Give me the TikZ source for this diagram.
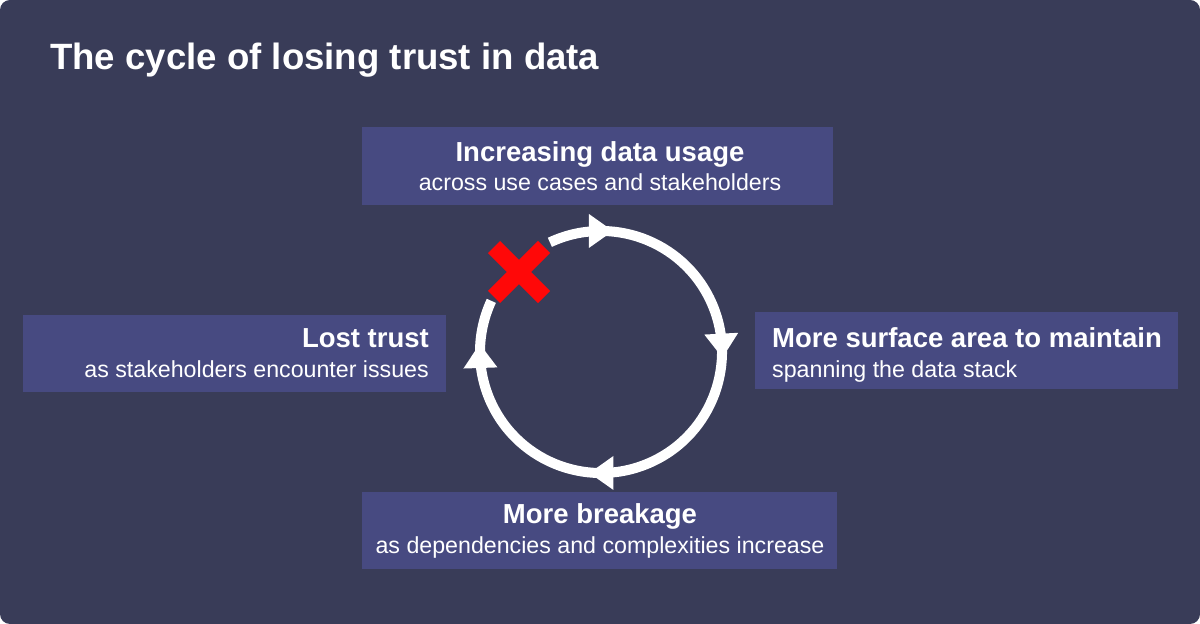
\documentclass[tikz,border=0pt]{standalone}
\usepackage{fontspec}
\setmainfont{Liberation Sans}
\usetikzlibrary{positioning,calc,decorations.markings}

\definecolor{bgnavy}{RGB}{57,60,88}
\definecolor{boxblue}{RGB}{71,74,129}
\definecolor{crossred}{RGB}{255,8,8}

\tikzset{
  box/.style={fill=boxblue, inner sep=0pt},
  headtxt/.style={text=white, inner sep=0pt, font=\bfseries\fontsize{27.5}{30}\selectfont},
  subtxt/.style={text=white, inner sep=0pt, font=\fontsize{23.2}{26}\selectfont},
  loop/.style={draw=white, line width=10pt, line cap=butt,
    postaction={decorate, decoration={markings,
      mark=at position #1 with {\fill[white] (-12,-17) -- (12,0) -- (-12,17) -- cycle;}}}}
}

\begin{document}
\begin{tikzpicture}[x=1pt, y=1pt]

 \fill[white] (0,0) rectangle (1200,624);
 \fill[bgnavy, rounded corners=10pt] (0,0) rectangle (1200,624);

 % title
 \node[anchor=base west, text=white, inner sep=0pt, font=\bfseries\fontsize{36.6}{40}\selectfont] (title) at (50,554) {The cycle of losing trust in data};

 % boxes
 \node[box, minimum width=471, minimum height=78] (usage) at (597.5,458) {};
 \node[box, minimum width=423, minimum height=77] (surface) at (966.5,273) {};
 \node[box, minimum width=475, minimum height=77] (breakage) at (599.5,93.5) {};
 \node[box, minimum width=423, minimum height=77] (trust) at (234.5,270.5) {};

 % texts
 \node[headtxt, anchor=base] (usagehead) at (600,462) {Increasing data usage};
 \node[subtxt, anchor=base] (usagesub) at (600,433) {across use cases and stakeholders};

 \node[headtxt, anchor=base west] (surfacehead) at (772,276) {More surface area to maintain};
 \node[subtxt, anchor=base west] (surfacesub) at (772,246) {spanning the data stack};

 \node[headtxt, anchor=base] (breakagehead) at (600,100) {More breakage};
 \node[subtxt, anchor=base] (breakagesub) at (600,70) {as dependencies and complexities increase};

 \node[headtxt, anchor=base east] (trusthead) at (429,276) {Lost trust};
 \node[subtxt, anchor=base east] (trustsub) at (429,246) {as stakeholders encounter issues};

 % cycle
 \coordinate (ctr) at (601,272);
 \draw[loop=0.078, postaction={decorate, decoration={markings,
      mark=at position 0.35 with {\fill[white] (-12,-17) -- (12,0) -- (-12,17) -- cycle;},
      mark=at position 0.64 with {\fill[white] (-12,-17) -- (12,0) -- (-12,17) -- cycle;},
      mark=at position 0.916 with {\fill[white] (-12,-17) -- (12,0) -- (-12,17) -- cycle;}}}]
   (ctr) ++(115:121) arc[start angle=115, end angle=-205, radius=121];

 % broken link
 \coordinate (cross) at (519,352);
 \draw[crossred, line width=17pt] ($(cross)+(-25,-25)$) -- ($(cross)+(25,25)$);
 \draw[crossred, line width=17pt] ($(cross)+(-25,25)$) -- ($(cross)+(25,-25)$);

\end{tikzpicture}
\end{document}
